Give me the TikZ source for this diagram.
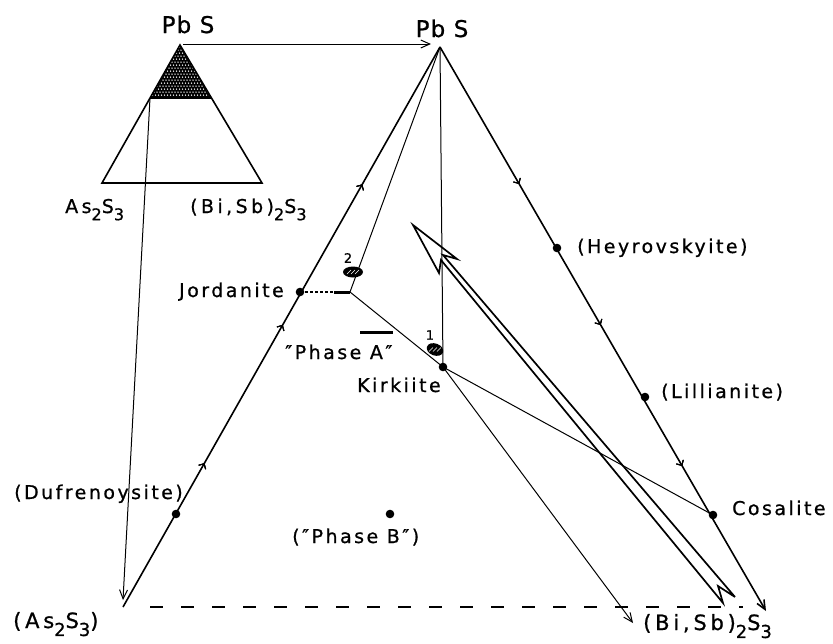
\documentclass[tikz,border=0pt]{standalone}
\usepackage{fontspec}
\usepackage{graphicx}
\setmainfont{DejaVu Sans}[LetterSpace=13, FakeBold=0.8]
\newfontfamily\chemfont{DejaVu Sans}[LetterSpace=18, FakeBold=0.8]
\newfontfamily\apexfont{DejaVu Sans}[LetterSpace=5, FakeBold=0.8]
\usetikzlibrary{arrows.meta,decorations.markings,calc}
% lowered index digit in a formula
\newcommand\lowr[1]{\raisebox{-0.38em}{\scalebox{0.85}{#1}}}
\tikzset{
  edgeline/.style={line width=1.6pt},
  thinline/.style={line width=1.0pt},
  arrowline/.style={-{Straight Barb[length=9pt,width=8pt]}},
  lbl/.style={inner sep=0pt, font=\fontsize{19}{22}\selectfont},
  chem/.style={inner sep=0pt, font=\chemfont\fontsize{21}{24}\selectfont},
  chemsmall/.style={inner sep=0pt, font=\chemfont\fontsize{19}{22}\selectfont},
  apex/.style={inner sep=0pt, font=\apexfont\fontsize{23}{26}\selectfont},
  num/.style={inner sep=0pt, font=\fontsize{13}{15}\selectfont},
  dotmark/.style={fill=black},
  edgetick/.style={decoration={markings,
      mark=at position #1 with {\arrow{Straight Barb[length=4pt,width=8pt,line width=1pt]}}},
      postaction={decorate}},
}
\begin{document}
\begin{tikzpicture}[x=1pt,y=-1pt]
\useasboundingbox (0,0) rectangle (833,643);
\fill[white] (0,0) rectangle (833,643);

% ---------- small key triangle ----------
\coordinate (sP) at (180,45);
\coordinate (sL) at (102,183);
\coordinate (sR) at (262,183);
\coordinate (sA) at (150,98);
\coordinate (sB) at (211,98);
\begin{scope}
  \clip (sP) -- (sA) -- (sB) -- cycle;
  \fill (sP) -- (sA) -- (sB) -- cycle;
  \foreach \j in {0,...,18} {
    \foreach \i in {0,...,22} {
      \pgfmathsetmacro{\xx}{148+3*\i+1.5*mod(\j,2)}
      \pgfmathsetmacro{\yy}{44+3*\j}
      \fill[white] (\xx,\yy) circle (0.75);
    }
  }
\end{scope}
\draw[edgeline, line join=miter] (sP) -- (sL) -- (sR) -- cycle;
\draw[edgeline] (sA) -- (sB);

\node[apex, anchor=base] (tPbSsmall) at (188,33) {Pb S};
\node[chemsmall, anchor=base west] (tAs) at (65,213) {As\lowr{2}S\lowr{3}};
\node[chemsmall, anchor=base west] (tBi) at (190,213) {(Bi,Sb)\lowr{2}S\lowr{3}};

% ---------- main triangle ----------
\coordinate (P) at (440,47);
\coordinate (L) at (123,607);
\coordinate (R) at (766,611);
\coordinate (Lb) at (150,607);
\coordinate (Be) at (743,607);

\draw[edgeline, edgetick=0.257, edgetick=0.504, edgetick=0.755] (L) -- (P);
\draw[edgeline, edgetick=0.243, edgetick=0.493, edgetick=0.743, arrowline] (P) -- (R);
\draw[edgeline, dash pattern=on 13pt off 18pt] (Lb) -- (Be);

% arrows from the key triangle
\coordinate (sPr) at (183,44);
\coordinate (Pin) at (431,44);
\coordinate (Lin) at (123,600);
\draw[thinline, arrowline] (sPr) -- (Pin);
\draw[thinline, arrowline] (sA) -- (Lin);

\node[apex, anchor=base] (tPbS) at (442,37) {Pb S};

% ---------- phases on the joins ----------
\coordinate (jor) at (300,292);
\coordinate (duf) at (176,514);
\coordinate (hey) at (557,248);
\coordinate (lil) at (645,397);
\coordinate (cos) at (713,515);
\coordinate (kir) at (443,367);
\coordinate (phb) at (390,514);
\coordinate (jdot) at (334,292);
\coordinate (jend) at (350,292);
\coordinate (bitip) at (633,623);

% tie lines
\draw[thinline] (P) -- (jend);
\draw[thinline] (P) -- (kir);
\draw[thinline] (jend) -- (kir);
\draw[thinline] (kir) -- (cos);
\draw[thinline, arrowline] (kir) -- (bitip);
\draw[line width=1.6pt, dash pattern=on 2.5pt off 2.5pt] (jor) -- (jdot);
\draw[line width=3pt] (jdot) -- (jend);

\foreach \p in {jor,duf,hey,lil,cos,kir,phb}
  \fill[dotmark] (\p) circle (4.3);

% bar over "Phase A"
\coordinate (barL) at (360,332);
\coordinate (barR) at (393,332);
\draw[line width=3pt] (barL) -- (barR);

% hatched blobs 1 and 2
\coordinate (e1) at (435,349.5);
\coordinate (e2) at (353,272);
\fill[rotate around={-20:(e1)}] (e1) ellipse [x radius=8.5, y radius=6];
\fill (e2) ellipse [x radius=10, y radius=5.5];
\foreach \d in {-4,0,4} {
  \draw[white, line width=0.6pt] ($(e1)+(\d-2,2)$) -- ($(e1)+(\d+2,-2)$);
  \draw[white, line width=0.6pt] ($(e2)+(\d-2,2)$) -- ($(e2)+(\d+2,-2)$);
}
\node[num] (n1) at (430,335) {1};
\node[num] (n2) at (348,258) {2};

% ---------- hollow arrow ----------
\coordinate (H) at (413,225);
\coordinate (HR) at (457,259);
\coordinate (NR) at (443,255);
\coordinate (HL) at (439,273);
\coordinate (NL) at (441,260);
\coordinate (TL) at (723,603);
\coordinate (TZ) at (718,586);
\coordinate (TR) at (735,597);
\draw[line width=1.7pt, line join=miter, miter limit=20]
  (TR) -- (NR) -- (HR) -- (H) -- (HL) -- (NL) -- (TL) -- (TZ) -- (TR);

% ---------- labels ----------
\node[lbl, anchor=base east] (tJor) at (284,297) {Jordanite};
\node[lbl, anchor=base west] (tPhA) at (285,359) {″Phase A″};
\node[lbl, anchor=base west] (tKir) at (357,392) {Kirkiite};
\node[lbl, anchor=base east] (tDuf) at (183,499) {(Dufrenoysite)};
\node[lbl, anchor=base west] (tPhB) at (292,543) {(″Phase B″)};
\node[lbl, anchor=base west] (tHey) at (577,253) {(Heyrovskyite)};
\node[lbl, anchor=base west] (tLil) at (661,398) {(Lillianite)};
\node[lbl, anchor=base west] (tCos) at (732,515) {Cosalite};
\node[chem, anchor=base west] (tAsB) at (13,628) {(As\lowr{2}S\lowr{3})};
\node[chem, anchor=base west] (tBiB) at (643,630) {(Bi,Sb)\lowr{2}S\lowr{3}};
\end{tikzpicture}
\end{document}
